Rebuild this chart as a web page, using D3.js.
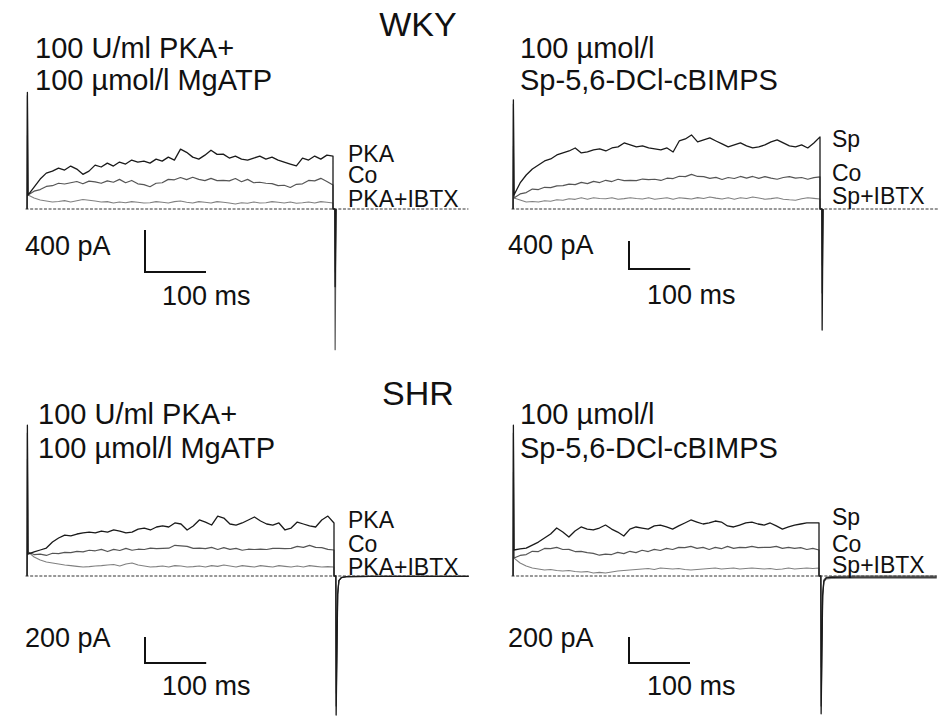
<!DOCTYPE html>
<html><head><meta charset="utf-8">
<script src="https://cdn.jsdelivr.net/npm/d3@7"></script>
<style>
html,body{margin:0;background:#fff}
svg{display:block}
text{font-family:"Liberation Sans",Arial,sans-serif;fill:#111}
</style>
</head><body>
<svg id="fig" width="940" height="718"></svg>
<script>
// Whole-cell currents during a 500 ms step, sampled every 10 ms (pA)
const sampleMs = 10;
const pulseEndMs = 500;
const timeBarMs = 100;

const groupTitles = ["WKY", "SHR"];
const pkaTitle = ["100 U/ml PKA+", "100 µmol/l MgATP"];
const spTitle = ["100 µmol/l", "Sp-5,6-DCl-cBIMPS"];
const pkaLabels = ["PKA", "Co", "PKA+IBTX"];
const spLabels = ["Sp", "Co", "Sp+IBTX"];
const currentBarLabels = ["400 pA", "400 pA", "200 pA", "200 pA"];
const currentBarPA = [400, 400, 200, 200];
const timeBarLabel = "100 ms";

// WKY, PKA + MgATP
const wkyPkaTrace = [133,209,285,342,361,390,371,409,380,330,361,418,400,437,409,447,428,466,447,456,437,475,456,494,466,570,540,494,475,513,560,520,523,485,504,475,466,485,504,475,494,466,447,428,410,485,466,504,475,513,504];
const wkyPkaControl = [133,170,185,215,222,245,238,250,262,240,265,258,245,268,255,282,250,272,240,232,212,245,250,282,278,300,280,302,282,270,292,270,272,268,290,260,282,250,255,245,242,222,226,205,235,240,272,268,292,262,228];
const wkyPkaIbtx = [133,105,86,76,67,72,80,67,78,90,84,76,67,70,57,67,60,70,64,57,60,70,64,57,70,76,64,57,70,64,57,70,64,57,48,60,55,67,57,60,70,64,57,67,55,60,67,57,70,64,57];
const wkyPkaOnset = [1110, 1080, 700];
const wkyPkaOffset = [-740, -1340, -600];

// WKY, Sp-5,6-DCl-cBIMPS
const wkySpTrace = [200,372,486,572,629,686,715,772,801,829,872,801,815,844,858,829,872,887,944,915,887,901,872,858,844,872,815,972,1001,1058,958,987,1015,972,930,887,915,944,901,872,887,915,958,987,944,901,887,915,872,944,1030];
const wkySpControl = [157,215,235,285,278,310,305,330,335,355,348,380,362,395,378,410,392,425,405,410,405,428,420,425,408,440,435,468,462,495,465,462,438,452,422,450,436,465,440,465,438,462,440,425,450,462,440,450,425,448,458];
const wkySpIbtx = [157,129,100,108,100,118,110,132,124,146,138,160,140,160,150,146,160,140,148,160,150,143,160,140,150,160,140,160,152,143,162,150,172,155,143,160,140,160,150,172,157,140,148,160,140,132,126,146,160,152,143];
const wkySpOnset = [1560, 1500, 900];
const wkySpOffset = [-1730, -1200, -800];

// SHR, PKA + MgATP
const shrPkaTrace = [169,185,200,215,261,292,315,308,323,331,338,331,346,338,354,346,331,338,361,369,354,377,385,377,408,400,354,385,431,415,392,461,446,400,392,408,431,454,423,400,392,408,354,369,415,400,385,377,431,461,408];
const shrPkaControl = [185,165,168,158,175,172,182,180,190,186,198,194,205,188,205,196,212,198,206,204,214,210,212,214,236,232,228,212,214,210,220,204,218,205,212,198,206,204,206,204,212,212,210,212,228,220,236,220,218,205,200];
const shrPkaIbtx = [185,146,123,108,100,92,85,80,74,69,72,77,80,85,88,77,92,100,85,77,69,72,77,69,80,77,69,72,77,69,80,74,85,77,69,80,74,69,80,74,69,80,74,69,77,69,80,74,69,72,69];
const shrPkaOnset = [1160, 1100, 900];
const shrPkaOffset = [-1070, -1000, -900];

// SHR, Sp-5,6-DCl-cBIMPS
const shrSpTrace = [200,208,215,238,261,292,323,369,338,300,346,377,361,354,369,392,361,338,308,361,377,369,361,385,392,377,361,385,408,431,415,400,408,423,415,385,377,392,408,415,400,392,408,385,361,377,392,400,408,408,408];
const shrSpControl = [138,158,165,190,188,212,210,220,204,205,188,190,180,174,160,168,165,182,172,190,180,198,188,205,196,212,204,220,218,228,212,220,204,220,210,228,212,220,218,228,218,220,220,228,212,220,212,218,204,212,200];
const shrSpIbtx = [138,100,77,62,54,46,50,42,38,42,35,31,34,23,28,23,31,38,42,46,50,54,58,50,62,58,54,58,50,46,50,54,58,62,54,58,62,54,58,62,58,54,58,50,54,62,54,58,62,58,62];
const shrSpOnset = [1160, 1100, 800];
const shrSpOffset = [-1060, -1000, -700];

// Tail currents after the step (SHR recordings), times in ms
const tailMs = [506, 508, 512, 520, 560];
const shrPkaTail = [-140, -35, -12, -5, -3];
const shrSpTails = [
  [-150, -40, -15, -10, -8],
  [-140, -30, -10, -4, 0],
  [-160, -45, -22, -18, -16]
];

const traceStyle = [
  {stroke: "#1a1a1a", width: 1.3},
  {stroke: "#555", width: 1.2},
  {stroke: "#808080", width: 1.1}
];

const panels = [
  {series: [wkyPkaTrace, wkyPkaControl, wkyPkaIbtx], onset: wkyPkaOnset, offset: wkyPkaOffset, tails: null,
   xr: [28, 333], baseY: 209, pxPerPA: 0.105, baseEnd: 722,
   title: pkaTitle, titleX: 35, titleY: [58, 90], labels: pkaLabels, labelX: 348, labelY: [162, 183, 207],
   bar: [145, 272], barText: [25, 255], msText: [162, 305]},
  {series: [wkySpTrace, wkySpControl, wkySpIbtx], onset: wkySpOnset, offset: wkySpOffset, tails: null,
   xr: [514, 820], baseY: 209, pxPerPA: 0.07, baseEnd: 694,
   title: spTitle, titleX: 520, titleY: [58, 90], labels: spLabels, labelX: 832, labelY: [147, 181, 204],
   bar: [629, 269], barText: [508, 254], msText: [647, 304]},
  {series: [shrPkaTrace, shrPkaControl, shrPkaIbtx], onset: shrPkaOnset, offset: shrPkaOffset,
   tails: [shrPkaTail, shrPkaTail, shrPkaTail],
   xr: [28, 334], baseY: 576, pxPerPA: 0.13, baseEnd: 720,
   title: pkaTitle, titleX: 38, titleY: [424, 458], labels: pkaLabels, labelX: 348, labelY: [528, 552, 575],
   bar: [145, 663], barText: [25, 647], msText: [162, 695]},
  {series: [shrSpTrace, shrSpControl, shrSpIbtx], onset: shrSpOnset, offset: shrSpOffset, tails: shrSpTails,
   xr: [514, 819], baseY: 576, pxPerPA: 0.13, baseEnd: 693,
   title: spTitle, titleX: 520, titleY: [424, 458], labels: spLabels, labelX: 832, labelY: [525, 552, 573],
   bar: [629, 663], barText: [508, 647], msText: [647, 695]}
];

const svg = d3.select("#fig");

// group headings
svg.append("text").attr("x", 418).attr("y", 36).attr("text-anchor", "middle")
  .attr("font-size", 34).text(groupTitles[0]);
svg.append("text").attr("x", 418).attr("y", 405).attr("text-anchor", "middle")
  .attr("font-size", 34).text(groupTitles[1]);

panels.forEach((p, pi) => {
  const x = d3.scaleLinear().domain([0, pulseEndMs]).range(p.xr);
  const y = d3.scaleLinear().domain([0, 1000]).range([p.baseY, p.baseY - 1000 * p.pxPerPA]);
  const line = d3.line().x(d => x(d[0])).y(d => y(d[1]));
  const g = svg.append("g");

  // zero-current reference
  g.append("path")
    .attr("d", line([[-4, 0], [p.baseEnd, 0]]))
    .attr("fill", "none").attr("stroke", "#333").attr("stroke-width", 1)
    .attr("stroke-dasharray", "3,1.6");

  // traces, drawn back to front
  [2, 1, 0].forEach(si => {
    const vals = p.series[si];
    const pts = [[-1.5, 0], [-1, p.onset[si]]];
    vals.forEach((v, k) => pts.push([k * sampleMs, v]));
    pts.push([pulseEndMs, 0], [pulseEndMs + 3, 0], [pulseEndMs + 3.5, p.offset[si]]);
    if (p.tails) {
      const tv = p.tails[si];
      tailMs.forEach((t, k) => pts.push([t, tv[k]]));
      pts.push([p.baseEnd, tv[tv.length - 1]]);
    } else {
      pts.push([pulseEndMs + 5, 0]);
    }
    g.append("path").attr("d", line(pts))
      .attr("fill", "none")
      .attr("stroke", traceStyle[si].stroke)
      .attr("stroke-width", traceStyle[si].width)
      .attr("stroke-linejoin", "round");
  });

  // condition titles
  p.title.forEach((t, k) => {
    g.append("text").attr("x", p.titleX).attr("y", p.titleY[k])
      .attr("font-size", 29).text(t);
  });

  // trace labels
  p.labels.forEach((t, k) => {
    g.append("text").attr("x", p.labelX).attr("y", p.labelY[k])
      .attr("font-size", 23).text(t);
  });

  // calibration bars
  const vLen = y(0) - y(currentBarPA[pi]);
  const hLen = x(timeBarMs) - x(0);
  const [bx, by] = p.bar;
  g.append("path")
    .attr("d", `M${bx},${by - vLen}V${by}H${bx + hLen}`)
    .attr("fill", "none").attr("stroke", "#111").attr("stroke-width", 2);
  g.append("text").attr("x", p.barText[0]).attr("y", p.barText[1])
    .attr("font-size", 27).text(currentBarLabels[pi]);
  g.append("text").attr("x", p.msText[0]).attr("y", p.msText[1])
    .attr("font-size", 27).text(timeBarLabel);
});
</script>
</body></html>
